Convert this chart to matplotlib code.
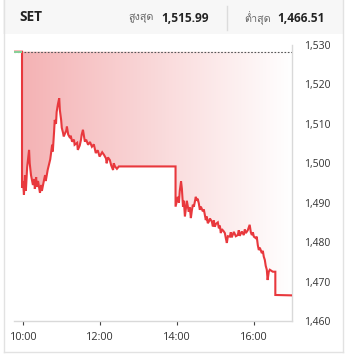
import numpy as np
import matplotlib
matplotlib.use("Agg")
import matplotlib.pyplot as plt
from matplotlib import font_manager
from matplotlib.patches import Rectangle, Polygon
from matplotlib.lines import Line2D
from matplotlib.colors import LinearSegmentedColormap

# ---------------- data ----------------
title = "SET"
high_label, high_value = "สูงสุด", "1,515.99"
low_label, low_value = "ต่ำสุด", "1,466.51"
prev_close = 1528.3

# minutes relative to 10:00
times = [-15, -2, -2, -0.5, 1, 2.6, 4, 6, 9, 10, 12, 15, 17, 18, 20, 21, 23, 26, 28, 29,
         32, 34, 35, 38, 42, 45, 46, 48, 49, 51, 52, 54, 56, 57, 59, 60, 62, 63, 67, 68,
         70, 73, 74, 76, 79, 80, 84, 85, 88, 90, 91, 93, 95, 96, 98, 101, 104, 107, 110,
         113, 116, 119, 123, 126, 129, 130, 132, 135, 137, 140, 141, 143, 146, 149, 150,
         237.4, 237.4, 239.5, 241, 242.7, 244, 246, 247.3, 249, 250.4, 252, 253.5, 255,
         256.6, 258, 259.7, 261.3, 262.8, 264.4, 266, 269, 270.6, 272, 273.7, 275.3, 276.9,
         280, 281.5, 284.6, 286, 287.7, 289.3, 291, 294, 295.6, 297, 298.7, 300.2, 303.3,
         305, 306.5, 308, 309.6, 312.7, 314.3, 315.8, 317.4, 319, 322, 323.6, 325, 328.3,
         331.4, 334.5, 336, 337.6, 340.7, 343.8, 345.4, 347, 350, 353, 354.8, 356.4, 358,
         359.5, 362.6, 364, 365.7, 367.3, 368.8, 372, 373.5, 375, 376.6, 378, 379.7, 381,
         382.8, 384.4, 389, 393, 393, 419]
values = [1528.3, 1528.3, 1493.8, 1495.5, 1492.0, 1497.0, 1493.0, 1499.0, 1503.4, 1500.0,
          1497.0, 1494.5, 1496.0, 1493.5, 1496.5, 1494.0, 1495.5, 1492.5, 1494.5, 1493.0,
          1495.5, 1497.0, 1495.5, 1498.3, 1501.0, 1504.7, 1503.0, 1508.0, 1511.0, 1510.0,
          1513.0, 1515.0, 1516.5, 1513.5, 1511.0, 1509.0, 1507.7, 1506.8, 1508.3, 1509.3,
          1507.3, 1506.4, 1507.0, 1505.5, 1506.0, 1504.7, 1505.2, 1503.4, 1504.5, 1506.0,
          1507.2, 1508.5, 1506.5, 1505.5, 1506.0, 1504.7, 1505.4, 1504.2, 1504.8, 1502.6,
          1503.3, 1501.7, 1502.8, 1502.1, 1501.2, 1500.0, 1501.5, 1500.8, 1499.5, 1498.3,
          1500.0, 1499.2, 1498.6, 1499.2, 1499.2,
          1499.2, 1489.0, 1490.5, 1491.5, 1490.0, 1493.0, 1495.4, 1493.5, 1489.0, 1490.5,
          1486.5, 1488.5, 1490.5, 1489.0, 1487.7, 1488.8, 1486.1, 1488.0, 1489.5, 1489.0,
          1491.5, 1490.5, 1491.0, 1489.8, 1488.2, 1489.0, 1487.8, 1488.3, 1485.6, 1486.5,
          1484.8, 1485.2, 1486.0, 1485.2, 1484.0, 1485.5, 1483.9, 1484.6, 1485.0, 1483.5,
          1484.2, 1482.3, 1483.3, 1482.7, 1482.3, 1481.0, 1479.8, 1481.5, 1481.4, 1482.5,
          1481.2, 1482.6, 1481.5, 1481.8, 1483.0, 1481.6, 1482.7, 1481.8, 1483.2, 1482.3,
          1483.0, 1484.4, 1482.5, 1481.8, 1482.5, 1481.4, 1481.0, 1481.4, 1479.2, 1478.0,
          1478.6, 1477.2, 1477.8, 1476.3, 1475.5, 1474.0, 1473.0, 1470.4, 1472.5, 1473.0,
          1472.5, 1472.5, 1466.6, 1466.5]

tick_minutes = [0, 120, 240, 360]
tick_labels = ["10:00", "12:00", "14:00", "16:00"]
y_ticks = [1460, 1470, 1480, 1490, 1500, 1510, 1520, 1530]
y_tick_labels = ["1,460", "1,470", "1,480", "1,490", "1,500", "1,510", "1,520", "1,530"]
x_min, x_max = -14.5, 419
y_min, y_max = 1460, 1530


# ---------------- fonts ----------------
def find_thai_font():
    try:
        from fontTools.ttLib import TTFont
    except Exception:
        return None
    for f in font_manager.fontManager.ttflist:
        try:
            tt = TTFont(f.fname, fontNumber=0, lazy=True)
            cmap = tt.getBestCmap()
            if cmap and 0x0E2A in cmap and 0x0E39 in cmap and 0x0E14 in cmap:
                return f.name
        except Exception:
            continue
    return None


thai_font = find_thai_font()
base_font = "Open Sans"
fam = [base_font] + ([thai_font] if thai_font else []) + ["DejaVu Sans"]
plt.rcParams['font.family'] = fam

W, H = 348, 358
DPI = 100
fig = plt.figure(figsize=(W / DPI, H / DPI), dpi=DPI)
fig.patch.set_facecolor("white")


def fx(px):
    return px / W


def fy(py):
    return 1 - py / H


# header background + border
fig.patches.append(Rectangle((fx(3), fy(34)), fx(340), 34 / H, transform=fig.transFigure,
                             facecolor="#f7f7f7", edgecolor="none", zorder=0))
border_c = "#e2e2e2"
fig.lines.append(Line2D([fx(3.5), fx(3.5)], [fy(0), fy(352)], transform=fig.transFigure,
                        color=border_c, lw=1))
fig.lines.append(Line2D([fx(342.5), fx(342.5)], [fy(0), fy(352)], transform=fig.transFigure,
                        color=border_c, lw=1))
fig.lines.append(Line2D([fx(3.5), fx(342.5)], [fy(352), fy(352)], transform=fig.transFigure,
                        color=border_c, lw=1))
fig.lines.append(Line2D([fx(227), fx(227)], [fy(6), fy(30)], transform=fig.transFigure,
                        color="#dcdcdc", lw=1))

fig.text(fx(19), fy(17), title, fontsize=9.8, fontweight="bold", color="#222222",
         va="center", ha="left")
fig.text(fx(154), fy(18), high_label, fontsize=7.8, color="#666666", va="center", ha="right",
         family=fam)
fig.text(fx(161), fy(18), high_value, fontsize=8.6, fontweight="bold", color="#222222",
         va="center", ha="left")
fig.text(fx(271), fy(18), low_label, fontsize=7.8, color="#666666", va="center", ha="right",
         family=fam)
fig.text(fx(277), fy(18), low_value, fontsize=8.6, fontweight="bold", color="#222222",
         va="center", ha="left")

# ---------------- axes ----------------
ax = fig.add_axes([fx(14), fy(321), fx(292 - 14), (321 - 45) / H])
ax.set_xlim(x_min, x_max)
ax.set_ylim(y_min, y_max)
ax.set_facecolor("none")

t = np.array(times, dtype=float)
v = np.array(values, dtype=float)

# gradient fill between prev close and price
grad = np.linspace(0, 1, 256).reshape(1, -1)
cmap = LinearSegmentedColormap.from_list("g", ["#f4b0b2", "#ffffff"])
im = ax.imshow(grad, extent=[x_min, x_max, y_min, y_max], aspect="auto", cmap=cmap,
               origin="lower", zorder=1, interpolation="bilinear")
poly_x = np.concatenate([t, [t[-1], t[0]]])
poly_y = np.concatenate([v, [prev_close, prev_close]])
clip = Polygon(np.column_stack([poly_x, poly_y]), closed=True, transform=ax.transData,
               facecolor="none", edgecolor="none")
ax.add_patch(clip)
im.set_clip_path(clip)

ax.axhline(prev_close, color="#555555", lw=0.8, ls=(0, (1.5, 1.5)), zorder=2)
ax.plot(t, v, color="#e8383d", lw=1.5, zorder=3, solid_joinstyle="miter")
ax.plot([times[0], times[1]], [values[0], values[1]], color="#86d49a", lw=1.4, zorder=4,
        solid_capstyle="butt")

for s in ["top", "left"]:
    ax.spines[s].set_visible(False)
for s in ["bottom", "right"]:
    ax.spines[s].set_color("#d9d9d9")
    ax.spines[s].set_linewidth(1)

ax.set_xticks(tick_minutes)
ax.set_xticklabels(tick_labels)
ax.set_yticks(y_ticks)
ax.set_yticklabels(y_tick_labels)
ax.yaxis.tick_right()
ax.tick_params(axis="y", length=0, pad=9, labelsize=7.5, labelcolor="#333333")
ax.tick_params(axis="x", length=3, width=0.8, color="#444444", pad=5, labelsize=7.8,
               labelcolor="#333333")
for lbl in ax.get_yticklabels():
    lbl.set_ha("left")

fig.savefig("out.png", dpi=DPI)
